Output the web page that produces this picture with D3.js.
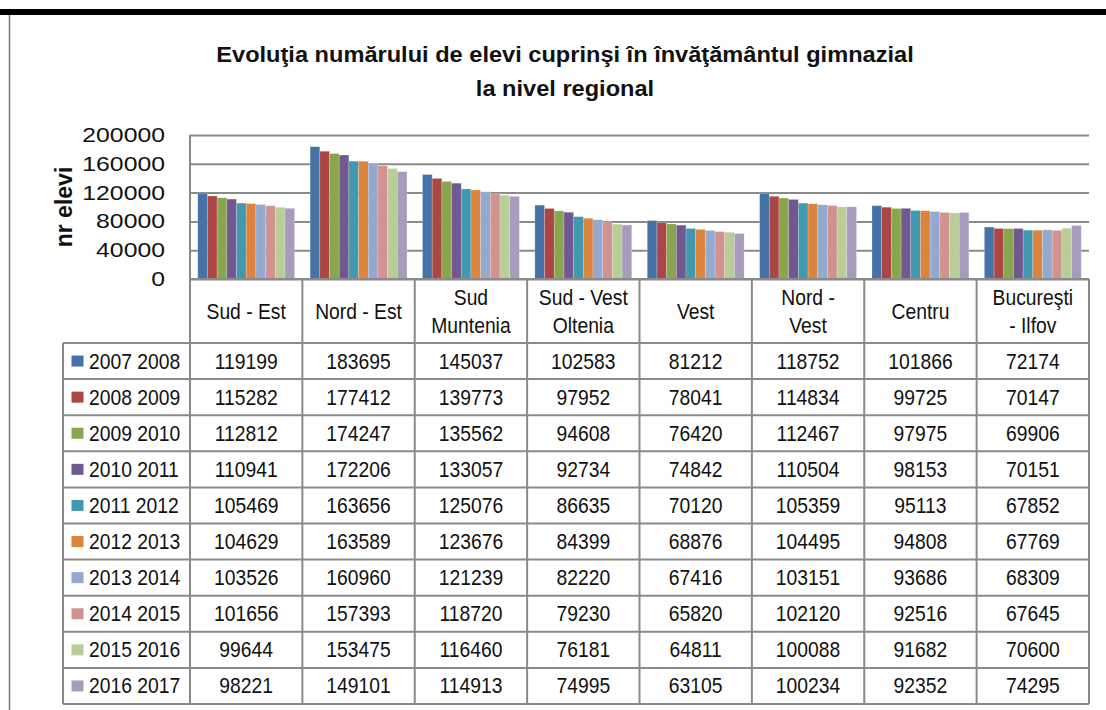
<!DOCTYPE html>
<html><head><meta charset="utf-8">
<script src="https://cdn.jsdelivr.net/npm/d3@7"></script>
<style>
html,body{margin:0;padding:0;background:#fff;}
svg{display:block;font-family:"Liberation Sans",Arial,sans-serif;}
</style></head>
<body>
<svg id="chart" width="1106" height="710"></svg>
<script>
const titleLines = ["Evoluţia numărului de elevi cuprinşi în învăţământul gimnazial", "la nivel regional"];
const yAxisTitle = "nr elevi";
const categories = ["Sud - Est", "Nord - Est", "Sud Muntenia", "Sud - Vest Oltenia", "Vest", "Nord - Vest", "Centru", "Bucureşti - Ilfov"];
const categoryLabelLines = [["Sud - Est"], ["Nord - Est"], ["Sud", "Muntenia"], ["Sud - Vest", "Oltenia"], ["Vest"], ["Nord -", "Vest"], ["Centru"], ["Bucureşti", "- Ilfov"]];
const seriesNames = ["2007 2008", "2008 2009", "2009 2010", "2010 2011", "2011 2012", "2012 2013", "2013 2014", "2014 2015", "2015 2016", "2016 2017"];
const s2007 = [119199, 183695, 145037, 102583, 81212, 118752, 101866, 72174];
const s2008 = [115282, 177412, 139773, 97952, 78041, 114834, 99725, 70147];
const s2009 = [112812, 174247, 135562, 94608, 76420, 112467, 97975, 69906];
const s2010 = [110941, 172206, 133057, 92734, 74842, 110504, 98153, 70151];
const s2011 = [105469, 163656, 125076, 86635, 70120, 105359, 95113, 67852];
const s2012 = [104629, 163589, 123676, 84399, 68876, 104495, 94808, 67769];
const s2013 = [103526, 160960, 121239, 82220, 67416, 103151, 93686, 68309];
const s2014 = [101656, 157393, 118720, 79230, 65820, 102120, 92516, 67645];
const s2015 = [99644, 153475, 116460, 76181, 64811, 100088, 91682, 70600];
const s2016 = [98221, 149101, 114913, 74995, 63105, 100234, 92352, 74295];
const seriesValues = [s2007, s2008, s2009, s2010, s2011, s2012, s2013, s2014, s2015, s2016];
const yTicks = [0, 40000, 80000, 120000, 160000, 200000];
const colors = ["#4572A7", "#AA4643", "#89A54E", "#71588F", "#4198AF", "#DB843D", "#93A9CF", "#D19392", "#B9CD96", "#A99BBD"];

(function () {
const svg = d3.select("#chart");
const pLeft = 190, pRight = 1089, pTop = 135, pBottom = 279;
const legendLeft = 63, headerBottom = 343, tableBottom = 704;
const gridColor = "#8a8a8a";
const textColor = "#111";
// table text: Arial-like, slightly tall
const tFs = 19.3, tSy = 1.17;

function stext(parent, x, y, str, opts) {
  const o = Object.assign({ fs: tFs, sx: 1, sy: tSy, anchor: "middle", weight: "normal" }, opts || {});
  return parent.append("text")
    .attr("transform", `translate(${x},${y}) scale(${o.sx},${o.sy})`)
    .attr("text-anchor", o.anchor).attr("font-size", o.fs).attr("font-weight", o.weight)
    .attr("fill", textColor).text(str);
}

// frame decorations
svg.append("rect").attr("x", 0).attr("y", 9).attr("width", 1106).attr("height", 6).attr("fill", "#000");
svg.append("line").attr("x1", 9.5).attr("x2", 9.5).attr("y1", 15).attr("y2", 710).attr("stroke", "#777").attr("stroke-width", 1.5);

// title
titleLines.forEach((t, i) => stext(svg, 565, 62 + i * 34, t, { fs: 23.6, sx: 1, sy: 0.96, weight: "bold" }));

const y = d3.scaleLinear().domain([0, 200000]).range([pBottom, pTop]);
const x0 = d3.scaleBand().domain(categories).range([pLeft, pRight]).paddingInner(0).paddingOuter(0);
const x1 = d3.scaleBand().domain(seriesNames).range([0, x0.bandwidth()]).paddingInner(0).paddingOuter(0.8);
const color = d3.scaleOrdinal().domain(seriesNames).range(colors);

// gridlines
const grid = svg.append("g").attr("transform", `translate(${pLeft},0)`)
  .call(d3.axisLeft(y).tickValues(yTicks).tickSize(-(pRight - pLeft)).tickFormat(""));
grid.select(".domain").remove();
grid.selectAll(".tick line").attr("stroke", gridColor).attr("stroke-width", 2);

// y axis labels (wide rendering)
const ySx = 1.24;
const yAxis = svg.append("g").attr("transform", `translate(${pLeft},0)`)
  .call(d3.axisLeft(y).tickValues(yTicks).tickSize(0).tickPadding(0).tickFormat(d3.format("d")));
yAxis.select(".domain").remove();
yAxis.selectAll("text")
  .attr("font-size", 20).attr("fill", textColor).attr("font-family", "Liberation Sans, Arial, sans-serif")
  .attr("x", -25 / ySx).attr("transform", `scale(${ySx},1)`);

stext(svg, 0, 0, yAxisTitle, { fs: 23, sx: 1, sy: 1, weight: "bold" })
  .attr("transform", `translate(72,${(pTop + pBottom) / 2}) rotate(-90)`);

// bars
const groups = svg.append("g").selectAll("g").data(categories).join("g")
  .attr("transform", d => `translate(${x0(d)},0)`);
groups.selectAll("rect").data((c, ci) => seriesNames.map((s, si) => ({ s, v: seriesValues[si][ci] }))).join("rect")
  .attr("x", d => x1(d.s)).attr("width", x1.bandwidth())
  .attr("y", d => y(d.v)).attr("height", d => y(0) - y(d.v))
  .attr("fill", d => color(d.s))
  .attr("stroke", "rgba(255,255,255,0.35)").attr("stroke-width", 0.6);

// data table
const rowY = d3.scaleBand().domain(seriesNames).range([headerBottom, tableBottom]);
const tbl = svg.append("g");
const hLines = [pBottom, headerBottom].concat(seriesNames.map(s => rowY(s) + rowY.bandwidth()));
tbl.selectAll("line.h").data(hLines).join("line").attr("class", "h")
  .attr("x1", (d, i) => i === 0 ? pLeft : legendLeft).attr("x2", pRight)
  .attr("y1", d => d).attr("y2", d => d)
  .attr("stroke", gridColor).attr("stroke-width", 2);
const vLines = categories.map(c => x0(c)).concat([pRight]);
tbl.selectAll("line.v").data(vLines).join("line").attr("class", "v")
  .attr("x1", d => d).attr("x2", d => d)
  .attr("y1", (d, i) => i === 0 ? pTop : pBottom).attr("y2", tableBottom)
  .attr("stroke", gridColor).attr("stroke-width", 2);
tbl.append("line").attr("x1", legendLeft).attr("x2", legendLeft).attr("y1", headerBottom).attr("y2", tableBottom)
  .attr("stroke", gridColor).attr("stroke-width", 2);

// header labels
categories.forEach((c, ci) => {
  const lines = categoryLabelLines[ci];
  const cy = (pBottom + headerBottom) / 2;
  lines.forEach((t, i) => {
    stext(tbl, x0(c) + x0.bandwidth() / 2, cy + 8 + (i - (lines.length - 1) / 2) * 27.5, t);
  });
});

// rows
seriesNames.forEach((s, si) => {
  const cy = rowY(s) + rowY.bandwidth() / 2;
  tbl.append("rect").attr("x", 71.5).attr("y", cy - 5.5).attr("width", 12).attr("height", 11).attr("fill", color(s));
  stext(tbl, 89, cy + 7.5, s, { anchor: "start" });
  categories.forEach((c, ci) => {
    stext(tbl, x0(c) + x0.bandwidth() / 2, cy + 7.5, seriesValues[si][ci]);
  });
});
})();
</script>
</body></html>
